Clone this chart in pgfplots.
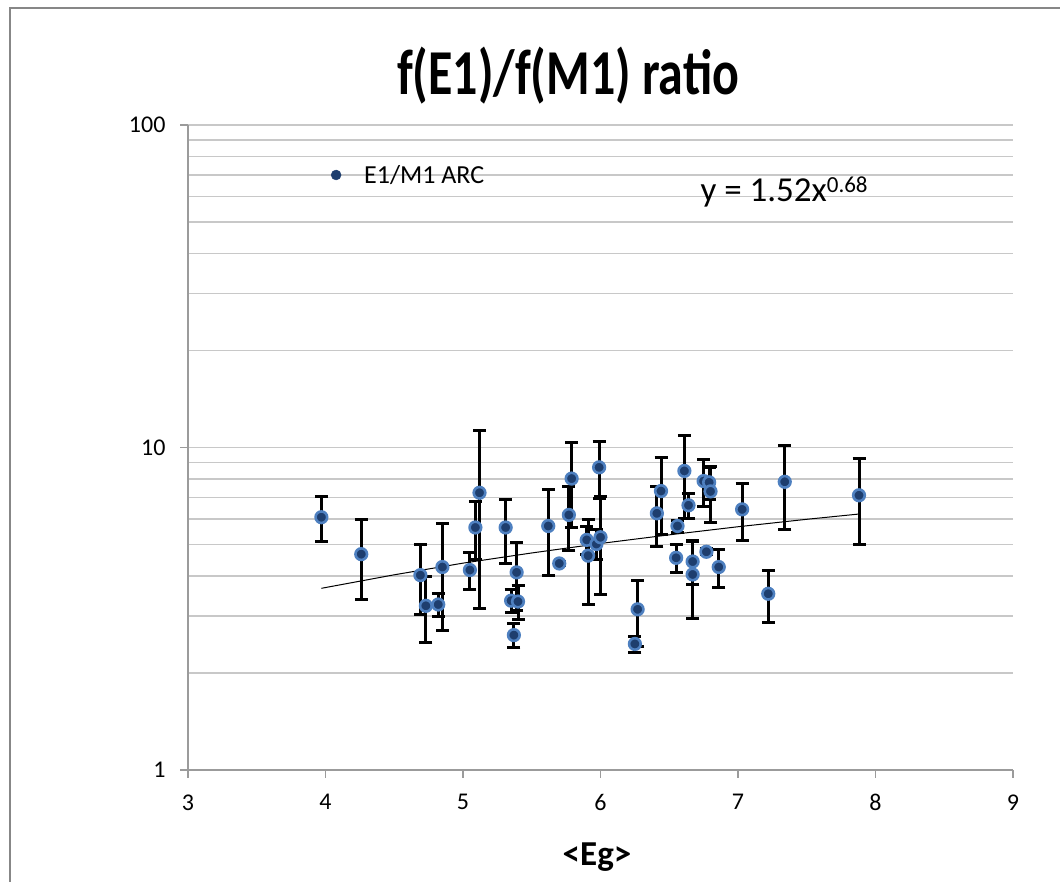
\documentclass[border=0pt]{standalone}
\usepackage{fontspec}
\setmainfont{Carlito}
\usepackage{graphicx}
\usepackage{pgfplots}
\pgfplotsset{compat=1.18}

\definecolor{markin}{RGB}{30,62,110}
\definecolor{markring}{RGB}{78,128,192}
\definecolor{gridc}{RGB}{200,200,200}
\definecolor{axisc}{RGB}{155,155,155}
\definecolor{framec}{RGB}{135,135,135}

\begin{document}
\begin{tikzpicture}
\clip (0pt,0pt) rectangle (1060pt,-881pt);
\draw[framec, line width=2pt] (10pt,-8pt) rectangle (1100pt,-920pt);

\node[font=\fontsize{64}{64}\selectfont\bfseries] at (568pt,-76pt)
  {\scalebox{0.78}[1]{f(E1)/f(M1) ratio}};
\node[font=\fontsize{35}{35}\selectfont\bfseries] at (597pt,-857pt) {<Eg>};

\begin{axis}[
    at={(188pt,-770pt)}, anchor=south west,
    scale only axis, width=825pt, height=645pt,
    xmin=3, xmax=9, xtick={3,4,5,6,7,8,9},
    ymode=log, ymin=1, ymax=100,
    log ticks with fixed point,
    ytick={1,10,100},
    /pgf/number format/assume math mode=true,
    tick label style={font=\fontsize{24}{24}\selectfont, black},
    xticklabel style={yshift=-13pt},
    yticklabel style={xshift=-11pt},
    axis x line*=bottom, axis y line*=left,
    axis line style={axisc, line width=1.2pt},
    tick style={axisc, line width=1.2pt},
    tick align=outside, major tick length=8pt, minor tick length=0pt,
    ymajorgrids, yminorgrids,
    major grid style={gridc, line width=1.5pt},
    minor grid style={gridc, line width=1.5pt},
    legend style={draw=none, fill=none, at={(rel axis cs:0.173,0.9225)},
        anchor=west, font=\fontsize{26}{26}\selectfont, inner sep=0pt},
    legend image code/.code={
        \fill[markin] (0pt,0pt) circle (5pt);
        \path[draw=none, fill=none] (-5pt,0pt) -- (26pt,0pt);},
]

% power trend line
\addplot[black, line width=1pt, forget plot] coordinates {
    (3.97,3.66) (4.5,4.03) (5,4.38) (5.5,4.71) (6,5.04)
    (6.5,5.36) (7,5.68) (7.5,5.99) (7.88,6.22)
};

\addplot[only marks, mark=*, mark size=5.8pt,
    mark options={fill=markin, draw=markring, line width=2.6pt},
    error bars/.cd, y dir=both, y explicit,
    error bar style={black, line width=3pt},
    error mark options={rotate=90, black, line width=3pt, mark size=6.5pt}]
coordinates {
    (3.97,6.08) +- (0,0.96)
    (4.26,4.67) +- (0,1.30)
    (4.69,4.02) +- (0,0.99)
    (4.73,3.23) +- (0,0.75)
    (4.82,3.26) +- (0,0.26)
    (4.85,4.26) +- (0,1.55)
    (5.05,4.17) +- (0,0.54)
    (5.09,5.65) +- (0,1.14)
    (5.12,7.24) +- (0,4.08)
    (5.31,5.65) +- (0,1.27)
    (5.39,4.10) +- (0,0.97)
    (5.35,3.35) +- (0,0.28)
    (5.40,3.33) +- (0,0.41)
    (5.37,2.62) +- (0,0.23)
    (5.62,5.71) +- (0,1.70)
    (5.70,4.37) +- (0,0.05)
    (5.79,8.01) +- (0,2.35)
    (5.77,6.18) +- (0,1.40)
    (5.90,5.17) +- (0,0.50)
    (5.91,4.62) +- (0,1.35)
    (5.97,5.02) +- (0,0.53)
    (6.00,5.27) +- (0,1.78)
    (5.99,8.68) +- (0,1.75)
    (6.27,3.15) +- (0,0.73)
    (6.25,2.46) +- (0,0.14)
    (6.41,6.25) +- (0,1.33)
    (6.44,7.33) +- (0,1.97)
    (6.56,5.71) +- (0,0.25)
    (6.61,8.46) +- (0,2.42)
    (6.64,6.62) +- (0,0.60)
    (6.55,4.55) +- (0,0.45)
    (6.67,4.43) +- (0,0.67)
    (6.67,4.04) +- (0,1.09)
    (6.77,4.75) +- (0,0.10)
    (6.75,7.87) +- (0,1.32)
    (6.79,7.80) +- (0,0.88)
    (6.80,7.31) +- (0,1.44)
    (6.86,4.26) +- (0,0.57)
    (7.03,6.43) +- (0,1.29)
    (7.22,3.52) +- (0,0.65)
    (7.34,7.83) +- (0,2.28)
    (7.88,7.11) +- (0,2.12)
};
\addlegendentry{E1/M1 ARC}

\node[anchor=base west, inner sep=0pt, font=\fontsize{35}{35}\selectfont]
  at (axis cs:6.726,58.1)
  {y = 1.52x\raisebox{9pt}{\fontsize{23}{23}\selectfont 0.68}};
\end{axis}
\end{tikzpicture}
\end{document}
